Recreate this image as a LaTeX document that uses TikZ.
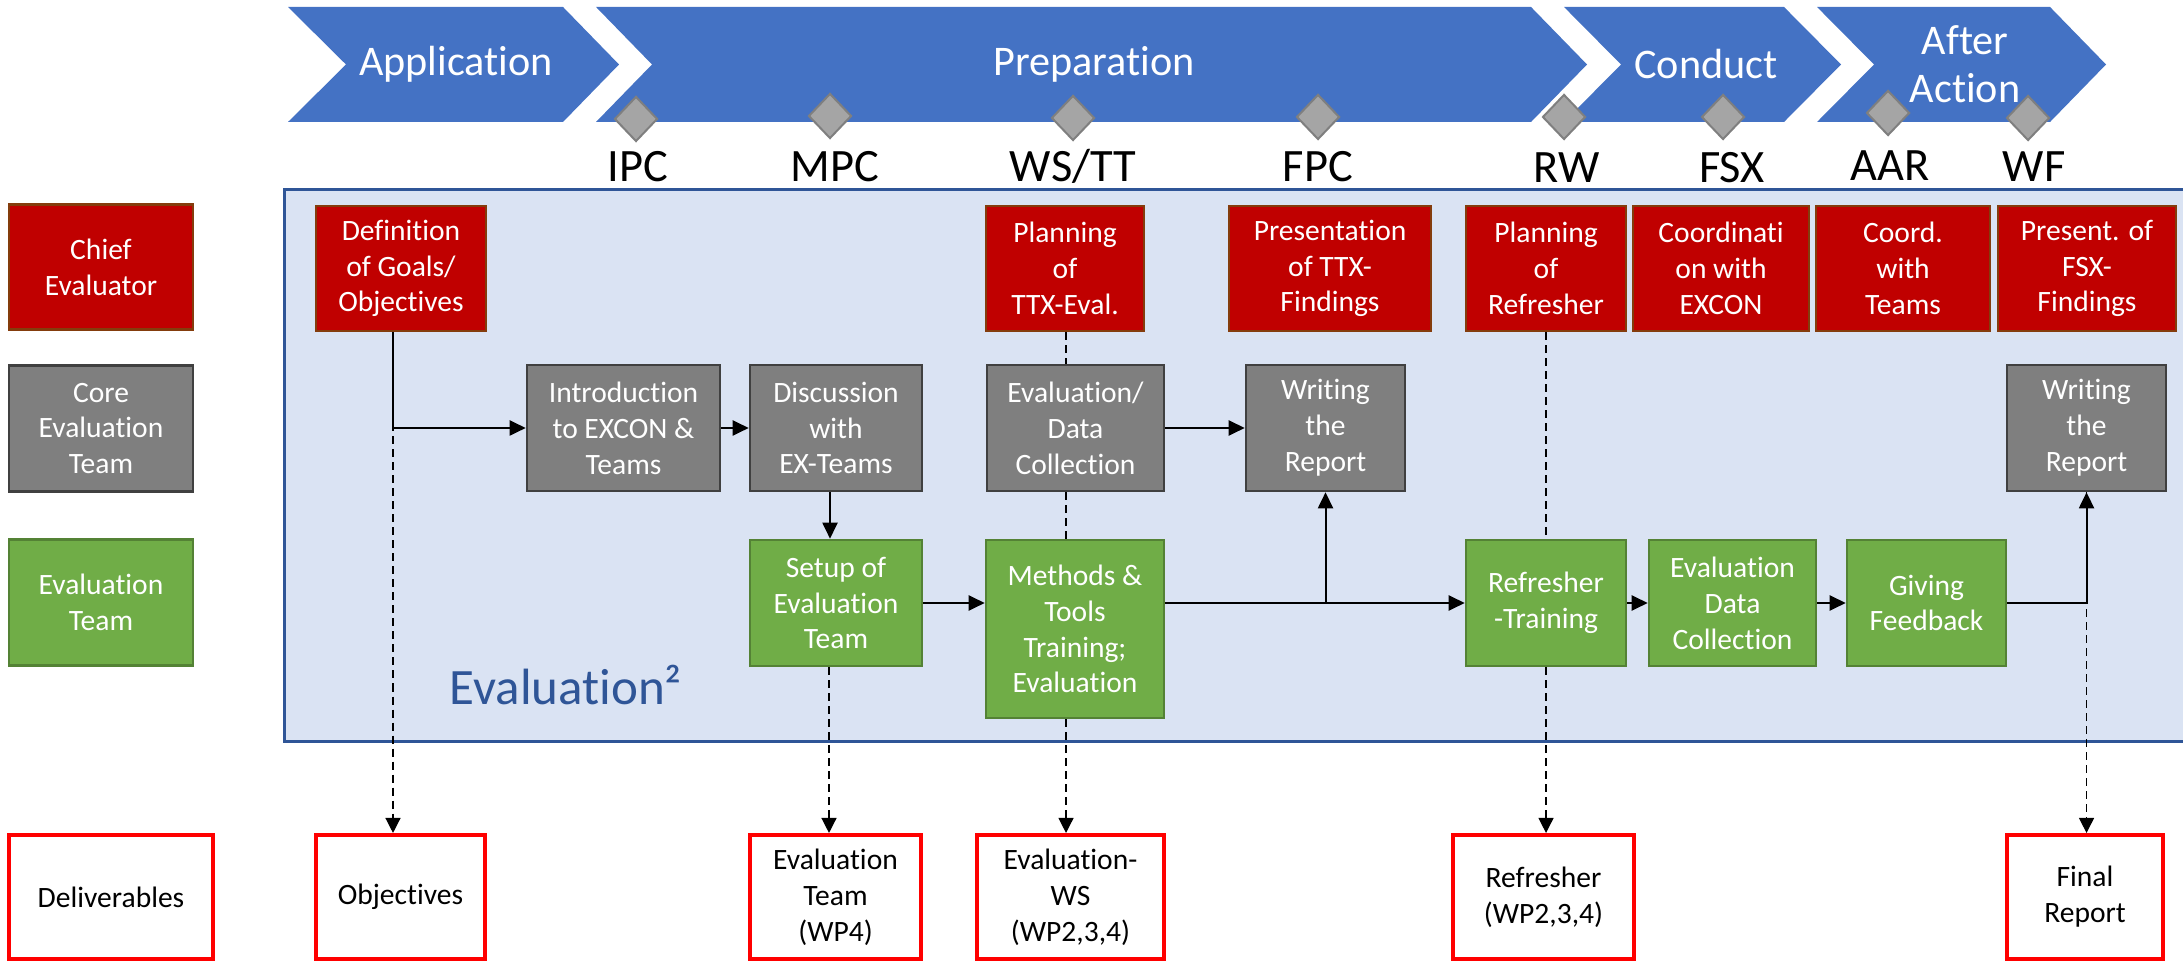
\documentclass[tikz,border=0pt]{standalone}
\usepackage{fontspec}
\setmainfont{Carlito}[Ligatures=NoCommon]
\usetikzlibrary{arrows.meta,calc,shapes.geometric}
\definecolor{chev}{HTML}{4472C4}
\definecolor{bgfill}{HTML}{DAE3F3}
\definecolor{bgline}{HTML}{2F5597}
\definecolor{cred}{HTML}{C00000}
\definecolor{credb}{HTML}{843C0C}
\definecolor{cgray}{HTML}{7F7F7F}
\definecolor{cgrayb}{HTML}{404040}
\definecolor{cgreen}{HTML}{70AD47}
\definecolor{cgreenb}{HTML}{548235}
\definecolor{cdel}{HTML}{FF0000}
\definecolor{diamf}{HTML}{A5A5A5}
\definecolor{diamb}{HTML}{7F7F7F}
\newcommand\bxfont{\fontsize{8.4}{10.2}\selectfont}
\tikzset{
  basebox/.style={draw, line width=0.025cm, inner sep=0pt, align=center, font=\bxfont, text=white},
  redbox/.style={basebox, fill=cred, draw=credb, minimum height=1.25cm},
  graybox/.style={basebox, fill=cgray, draw=cgrayb, minimum height=1.26cm},
  greenbox/.style={basebox, fill=cgreen, draw=cgreenb, minimum height=1.26cm},
  delbox/.style={draw=cdel, line width=0.04cm, fill=white, inner sep=0pt, align=center, font=\bxfont, text=black, minimum height=1.24cm},
  chevtxt/.style={text=white, align=center, inner sep=0pt, font=\fontsize{12}{13.6}\selectfont},
  lbl/.style={text=black, inner sep=0pt, anchor=base, font=\fontsize{13.2}{15}\selectfont},
  diam/.style={diamond, fill=diamf, draw=diamb, line width=0.02cm, minimum width=0.43cm, minimum height=0.45cm, inner sep=0pt},
  arr/.style={line width=0.02cm, -{Triangle[length=0.16cm,width=0.15cm]}},
  dsh/.style={line width=0.013cm, dash pattern=on 0.08cm off 0.05cm},
  dsharr/.style={dsh, -{Triangle[length=0.15cm,width=0.15cm]}}
}
\begin{document}
\begin{tikzpicture}[x=0.01cm,y=-0.01cm]
\useasboundingbox (0,0) rectangle (2183,962);

% phase chevrons
\fill[chev] (288,7) -- (563,7) -- (619,64.5) -- (563,122) -- (288,122) -- (346,64.5) -- cycle;
\fill[chev] (596,7) -- (1531,7) -- (1587,64.5) -- (1531,122) -- (596,122) -- (652,64.5) -- cycle;
\fill[chev] (1564,7) -- (1784,7) -- (1841,64.5) -- (1784,122) -- (1564,122) -- (1621,64.5) -- cycle;
\fill[chev] (1817,7) -- (2050,7) -- (2106,64.5) -- (2050,122) -- (1817,122) -- (1874,64.5) -- cycle;
\node[chevtxt] (tApp) at (456,64) {Application};
\node[chevtxt] (tPrep) at (1094,64) {Preparation};
\node[chevtxt] (tCond) at (1706,64) {Conduct};
\node[chevtxt] (tAfter) at (1965,64) {After\\Action};

% milestones
\node[diam] (mIPC) at (636,119) {};
\node[diam] (mMPC) at (830,116) {};
\node[diam] (mWS) at (1073,118) {};
\node[diam] (mFPC) at (1318,117) {};
\node[diam] (mRW) at (1564,117) {};
\node[diam] (mFSX) at (1723,117) {};
\node[diam] (mAAR) at (1888,113) {};
\node[diam] (mWF) at (2028,118) {};
\node[lbl] (lIPC) at (638,182) {IPC};
\node[lbl] (lMPC) at (835,182) {MPC};
\node[lbl] (lWS) at (1073,182) {WS/TT};
\node[lbl] (lFPC) at (1318,182) {FPC};
\node[lbl] (lRW) at (1567,183) {RW};
\node[lbl] (lFSX) at (1732,183) {FSX};
\node[lbl] (lAAR) at (1890,181) {AAR};
\node[lbl] (lWF) at (2034,182) {WF};

% background area
\fill[bgfill] (284,190) rectangle (2183,742);
\draw[bgline, line width=0.03cm] (2183,190) -- (284,190) -- (284,742) -- (2183,742);
\node[anchor=base west, text=bgline, inner sep=0pt, font=\fontsize{14.5}{17}\selectfont] (evtitle) at (449,705) {Evaluation²};

% legend
\node[redbox, minimum width=1.84cm] (lChief) at (101,267) {Chief\\Evaluator};
\node[graybox, minimum width=1.84cm] (lCore) at (101,428.5) {Core\\Evaluation\\Team};
\node[greenbox, minimum width=1.84cm] (lEval) at (101,602.5) {Evaluation\\Team};
\node[delbox, minimum width=2.04cm] (lDel) at (111,897) {Deliverables};

% chief evaluator row
\node[redbox, minimum width=1.70cm] (def) at (401,268.5) {Definition\\of Goals/\\Objectives};
\node[redbox, minimum width=1.58cm] (planTTX) at (1065,268.5) {Planning\\of\\TTX-Eval.};
\node[redbox, minimum width=2.02cm] (presTTX) at (1330,268.5) {Presentation\\of TTX-\\Findings};
\node[redbox, minimum width=1.60cm] (planRef) at (1546,268.5) {Planning\\of\\Refresher};
\node[redbox, minimum width=1.76cm] (coordEx) at (1721,268.5) {Coordinati\\on with\\EXCON};
\node[redbox, minimum width=1.74cm] (coordTm) at (1903,268.5) {Coord.\\with\\Teams};
\node[redbox, minimum width=1.78cm] (presFSX) at (2087,268.5) {Present. of\\FSX-\\Findings};

% core team row
\node[graybox, minimum width=1.93cm] (intro) at (623.5,428) {Introduction\\to EXCON \&\\Teams};
\node[graybox, minimum width=1.72cm] (disc) at (836,428) {Discussion\\with\\EX-Teams};
\node[graybox, minimum width=1.77cm] (evalData) at (1075.5,428) {Evaluation/\\Data\\Collection};
\node[graybox, minimum width=1.59cm] (write1) at (1325.5,428) {Writing\\the\\Report};
\node[graybox, minimum width=1.59cm] (write2) at (2086.5,428) {Writing\\the\\Report};

% evaluation team row
\node[greenbox, minimum width=1.72cm] (setup) at (836,603) {Setup of\\Evaluation\\Team};
\node[greenbox, minimum width=1.78cm, minimum height=1.78cm] (methods) at (1075,629) {Methods \&\\Tools\\Training;\\Evaluation};
\node[greenbox, minimum width=1.60cm] (refr) at (1546,603) {Refresher\\-Training};
\node[greenbox, minimum width=1.67cm] (edc) at (1732.5,603) {Evaluation\\Data\\Collection};
\node[greenbox, minimum width=1.59cm] (feed) at (1926.5,603) {Giving\\Feedback};

% deliverables
\node[delbox, minimum width=1.69cm] (obj) at (400.5,897) {Objectives};
\node[delbox, minimum width=1.71cm] (dET) at (835.5,897) {Evaluation\\Team\\(WP4)};
\node[delbox, minimum width=1.87cm] (dWS) at (1070.5,897) {Evaluation-\\WS\\(WP2,3,4)};
\node[delbox, minimum width=1.81cm] (dRef) at (1543.5,897) {Refresher\\(WP2,3,4)};
\node[delbox, minimum width=1.56cm] (dFin) at (2085,897) {Final\\Report};

% helper coordinates
\coordinate (defb) at ([xshift=-0.08cm]def.south);
\coordinate (setb) at ([xshift=-0.07cm]setup.south);
\coordinate (ttxb) at ([xshift=0.01cm]planTTX.south);

% solid flow
\draw[arr] (defb) |- (intro.west);
\draw[arr] (intro.east) -- (disc.west);
\draw[arr] ([xshift=-0.06cm]disc.south) -- ([xshift=-0.06cm]setup.north);
\draw[arr] (setup.east) -- (setup.east -| methods.west);
\draw[arr] (evalData.east) -- (write1.west);
\draw[arr] (refr.west -| methods.east) -- (refr.west);
\draw[arr] (write1.south |- refr.west) -- (write1.south);
\draw[arr] (refr.east) -- (edc.west);
\draw[arr] (edc.east) -- (feed.west);
\draw[arr] (feed.east) -| (write2.south);

% dashed links to deliverables
\draw[dsharr] (defb) -- (defb |- obj.north);
\draw[dsharr] (setb) -- (setb |- dET.north);
\draw[dsh] (ttxb) -- (ttxb |- evalData.north);
\draw[dsh] (ttxb |- evalData.south) -- (ttxb |- methods.north);
\draw[dsharr] (ttxb |- methods.south) -- (ttxb |- dWS.north);
\draw[dsh] (planRef.south) -- (refr.north);
\draw[dsharr] (refr.south) -- (refr.south |- dRef.north);
\draw[dsharr] (write2.south) -- (write2.south |- dFin.north);
\end{tikzpicture}
\end{document}
